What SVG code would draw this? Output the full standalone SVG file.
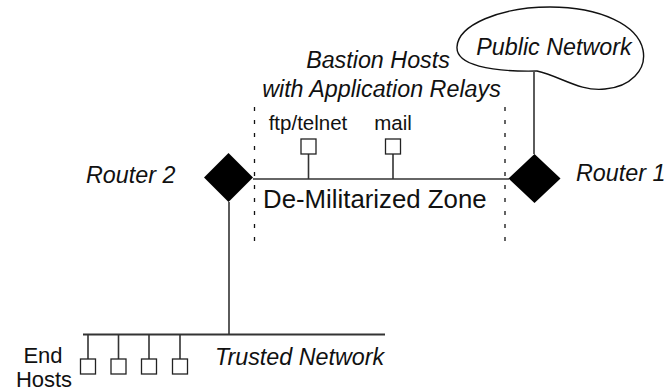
<svg xmlns="http://www.w3.org/2000/svg" width="667" height="392" viewBox="0 0 667 392">
<style>
  text { font-family: "Liberation Sans", Arial, sans-serif; fill: #111; }
  .it { font-style: italic; font-size: 23.3px; }
  .sm { font-size: 20.5px; }
  .big { font-size: 25.8px; }
  .line { stroke: #333; stroke-width: 1.6; fill: none; }
  .dash { stroke: #111; stroke-width: 1.3; stroke-dasharray: 4 9; fill: none; }
  .host { fill: #fff; stroke: #222; stroke-width: 1.3; }
  .router { fill: #000; }
</style>
<rect width="667" height="392" fill="#fff"/>
<g id="connectors">
  <line class="line" x1="253" y1="179" x2="509" y2="179"/>
  <line class="line" x1="534" y1="72" x2="534" y2="154"/>
  <line class="line" x1="229" y1="202" x2="229" y2="335"/>
  <line class="line" x1="83" y1="334.5" x2="385" y2="334.5" style="stroke-width:2"/>
  <line class="line" x1="308.5" y1="154" x2="308.5" y2="179"/>
  <line class="line" x1="393" y1="154" x2="393" y2="179"/>
  <line class="line" x1="88" y1="334" x2="88" y2="359"/>
  <line class="line" x1="118.5" y1="334" x2="118.5" y2="359"/>
  <line class="line" x1="149" y1="334" x2="149" y2="359"/>
  <line class="line" x1="180" y1="334" x2="180" y2="359"/>
</g>
<g id="dmz">
  <line class="dash" x1="254.5" y1="107" x2="254.5" y2="242"/>
  <line class="dash" x1="505" y1="107" x2="505" y2="242"/>
  <text class="big" x="263" y="208">De-Militarized Zone</text>
</g>
<g id="public-network">
  <path d="M 537,71 C 560,76 580,92 605,89 C 630,87 647,70 643,50 C 638,25 600,7 550,7 C 500,7 458,25 457,47 C 456,65 490,72 537,71 Z" fill="#fff" stroke="#111" stroke-width="1.4"/>
  <text class="it" x="554" y="55" text-anchor="middle">Public Network</text>
</g>
<g id="router1">
  <polygon class="router" points="534.5,154 560.5,178.5 534.5,203 508.5,178.5"/>
  <text class="it" x="576" y="181">Router 1</text>
</g>
<g id="router2">
  <polygon class="router" points="228.5,153 253,177.5 228.5,202 204,177.5"/>
  <text class="it" x="86" y="183">Router 2</text>
</g>
<g id="bastion-label">
  <text class="it" x="378" y="68" text-anchor="middle">Bastion Hosts</text>
  <text class="it" x="381.5" y="97" text-anchor="middle">with Application Relays</text>
</g>
<g id="ftp-telnet">
  <rect class="host" x="301" y="139" width="15" height="15"/>
  <text class="sm" x="308" y="130" text-anchor="middle">ftp/telnet</text>
</g>
<g id="mail">
  <rect class="host" x="385.5" y="139" width="15" height="15"/>
  <text class="sm" x="393" y="130" text-anchor="middle">mail</text>
</g>
<g id="trusted-network">
  <text class="it" x="215" y="365">Trusted Network</text>
</g>
<g id="end-hosts">
  <rect class="host" x="80.5" y="359" width="15" height="15"/>
  <rect class="host" x="111" y="359" width="15" height="15"/>
  <rect class="host" x="141.5" y="359" width="15" height="15"/>
  <rect class="host" x="172.5" y="359" width="15" height="15"/>
  <text x="43" y="363" text-anchor="middle" style="font-size:22px">End</text>
  <text x="44" y="387" text-anchor="middle" style="font-size:22px">Hosts</text>
</g>
</svg>
